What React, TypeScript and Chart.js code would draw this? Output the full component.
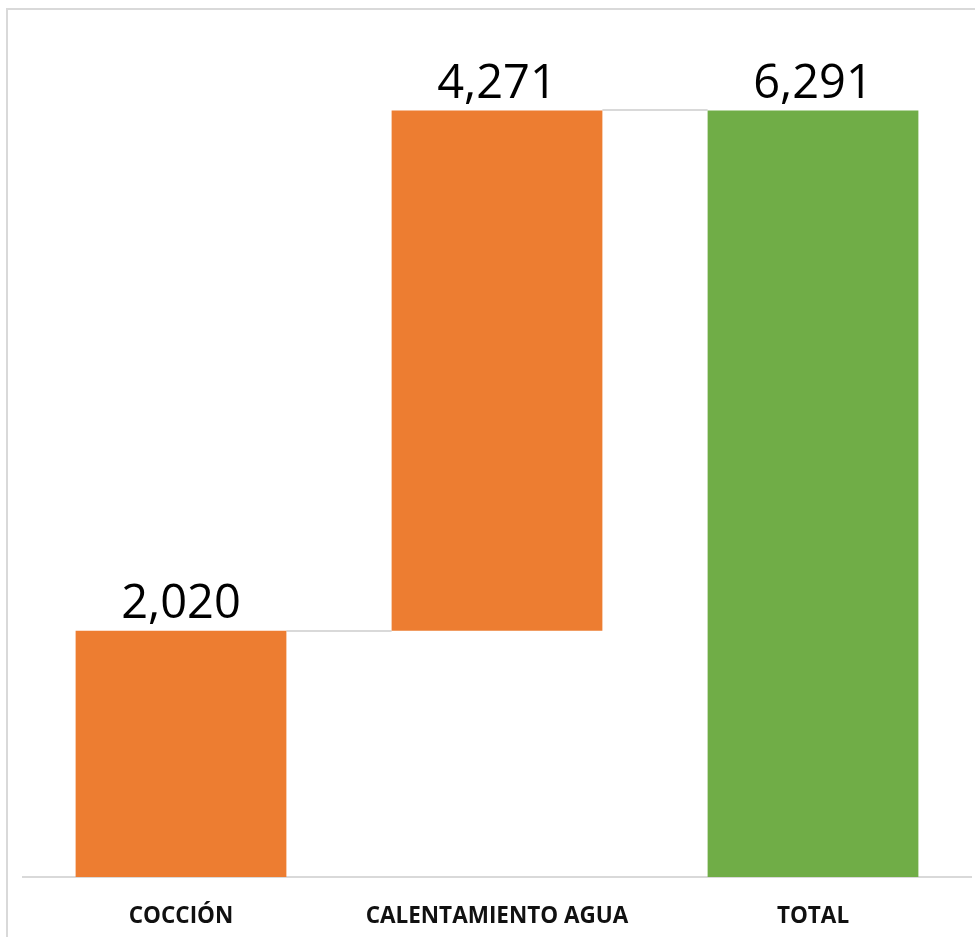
import React, { useEffect, useRef } from "react";
import { Chart, registerables } from "chart.js";

Chart.register(...registerables);

const categories = ["COCCIÓN", "CALENTAMIENTO AGUA", "TOTAL"];
const stepValues = [2020, 4271];
const totalValue = 6291;
const barColors = ["#ED7D31", "#ED7D31", "#70AD47"];
const yMax = 7000;

function buildFloating(): [number, number][] {
  const out: [number, number][] = [];
  let cum = 0;
  for (const v of stepValues) {
    out.push([cum, cum + v]);
    cum += v;
  }
  out.push([0, totalValue]);
  return out;
}

const displayValues = [...stepValues, totalValue];

export default function App() {
  const ref = useRef<HTMLCanvasElement | null>(null);

  useEffect(() => {
    if (!ref.current) return;
    const floating = buildFloating();

    const connectorPlugin = {
      id: "connectors",
      beforeDatasetsDraw(chart: any) {
        const meta = chart.getDatasetMeta(0);
        const ys = chart.scales.y;
        const ctx = chart.ctx;
        ctx.save();
        ctx.strokeStyle = "#d9d9d9";
        ctx.lineWidth = 2;
        for (let i = 0; i < floating.length - 1; i++) {
          const a = meta.data[i];
          const b = meta.data[i + 1];
          const y = Math.round(ys.getPixelForValue(floating[i][1]));
          ctx.beginPath();
          ctx.moveTo(a.x + a.width / 2, y);
          ctx.lineTo(b.x - b.width / 2, y);
          ctx.stroke();
        }
        ctx.restore();
      },
    };

    const labelPlugin = {
      id: "valueLabels",
      afterDatasetsDraw(chart: any) {
        const meta = chart.getDatasetMeta(0);
        const ys = chart.scales.y;
        const ctx = chart.ctx;
        ctx.save();
        ctx.fillStyle = "#000";
        ctx.font = "47px 'Open Sans', sans-serif";
        ctx.textAlign = "center";
        ctx.textBaseline = "alphabetic";
        meta.data.forEach((bar: any, i: number) => {
          const top = ys.getPixelForValue(floating[i][1]);
          ctx.fillText(displayValues[i].toLocaleString("en-US"), bar.x, top - 12.5);
        });
        ctx.restore();
      },
    };

    const chart = new Chart(ref.current, {
      type: "bar",
      data: {
        labels: categories,
        datasets: [
          {
            data: floating as any,
            backgroundColor: barColors,
            borderWidth: 0,
            categoryPercentage: 1,
            barPercentage: 0.667,
          },
        ],
      },
      options: {
        animation: false,
        responsive: false,
        devicePixelRatio: 1,
        layout: { padding: { left: 23, right: 4, top: 24, bottom: 0 } },
        plugins: {
          legend: { display: false },
          tooltip: { enabled: false },
        },
        scales: {
          x: {
            grid: { display: false },
            border: { display: true, color: "#d9d9d9", width: 2 },
            afterFit: (scale: any) => {
              scale.height = 60;
            },
            ticks: {
              color: "#111",
              padding: 18,
              maxRotation: 0,
              autoSkip: false,
              font: { family: "'Open Sans', sans-serif", size: 22.5, weight: "bold" },
            },
          },
          y: { display: false, min: 0, max: yMax },
        },
      },
      plugins: [connectorPlugin, labelPlugin],
    });
    return () => chart.destroy();
  }, []);

  return (
    <div style={{ position: "fixed", left: 0, top: 0, width: 975, height: 937, overflow: "hidden", background: "#fff" }}>
      <div
        style={{
          position: "absolute",
          left: 6,
          top: 8,
          width: 1100,
          height: 1100,
          borderLeft: "2px solid #d9d9d9",
          borderTop: "2px solid #d9d9d9",
        }}
      />
      <canvas ref={ref} width={975} height={937} style={{ position: "absolute", left: 0, top: 0, width: 975, height: 937 }} />
    </div>
  );
}
